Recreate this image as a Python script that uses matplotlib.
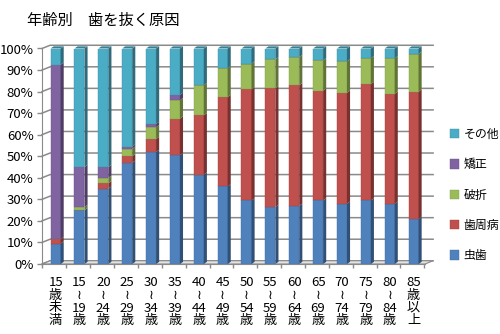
import numpy as np
import matplotlib
matplotlib.use('Agg')
import matplotlib.pyplot as plt
from matplotlib.patches import Polygon
from matplotlib.colors import to_rgb

plt.rcParams['font.family'] = ['Noto Sans CJK JP', 'DejaVu Sans']

ages = ['15\n歳\n未\n満', '15\n≀\n19\n歳', '20\n≀\n24\n歳', '25\n≀\n29\n歳',
        '30\n≀\n34\n歳', '35\n≀\n39\n歳', '40\n≀\n44\n歳', '45\n≀\n49\n歳',
        '50\n≀\n54\n歳', '55\n≀\n59\n歳', '60\n≀\n64\n歳', '65\n≀\n69\n歳',
        '70\n≀\n74\n歳', '75\n≀\n79\n歳', '80\n≀\n84\n歳', '85\n歳\n以\n上']

mushiba = [9.5, 25, 35, 47, 52, 50.5, 41.5, 36, 29.5, 26.5, 27, 29.5, 28, 29.5, 28, 21]
shishubyo = [2, 0, 2.5, 3, 6, 17, 27.5, 41.5, 51.5, 55, 56, 51, 51.5, 54, 51, 59]
hasetsu = [0, 1.5, 2.5, 3.5, 5.5, 8.5, 14, 13.5, 12, 13.5, 13, 14, 14.5, 12, 16.5, 17.5]
kyosei = [81, 18.5, 5, 1, 1.5, 2.5, 0, 0, 0, 0, 0, 0, 0, 0, 0, 0]
sonota = [7.5, 55, 55, 45.5, 35, 21.5, 17, 9, 7, 5, 4, 5.5, 6, 4.5, 4.5, 2.5]

series_names = ['虫歯', '歯周病', '破折', '矯正', 'その他']
series_vals = [mushiba, shishubyo, hasetsu, kyosei, sonota]
colors = ['#4f81bd', '#c0504d', '#9bbb59', '#8064a2', '#4bacc6']

def shade(c, f):
    r, g, b = to_rgb(c)
    return (r * f, g * f, b * f)

fig = plt.figure(figsize=(5, 3.34), dpi=100)
ax = fig.add_axes([42 / 500, 70 / 334, 383 / 500, 215.5 / 334])

x = np.arange(len(ages))
w = 0.42
dx, dy = 0.13, 1.0      # bar depth
wx, wy = 0.34, 1.5      # back wall offset
xl, xr = -0.57, 15.48
ax.set_xlim(xl, xr)
ax.set_ylim(0, 100)

# back wall gridlines + floor
for v in range(0, 101, 10):
    ax.plot([xl, xl + wx, xr + wx], [v, v + wy, v + wy], color='#8a8a8a',
            lw=1.1, zorder=0, clip_on=False)
ax.add_patch(Polygon([(xl, 0), (xl + wx, wy), (xr + wx, wy), (xr, 0)],
                     closed=True, fc='#e4e4e4', ec='#8a8a8a', lw=0.8,
                     zorder=0.5, clip_on=False))

bottom = np.zeros(len(ages))
handles = []
for name, vals, c in zip(series_names, series_vals, colors):
    vals = np.array(vals, dtype=float)
    h = ax.bar(x, vals, width=w, bottom=bottom, color=c, zorder=2,
               label=name, edgecolor=shade(c, 0.85), linewidth=0.3)
    handles.append(h)
    for xi, b, v in zip(x, bottom, vals):
        if v <= 0:
            continue
        ax.add_patch(Polygon([(xi + w / 2, b), (xi + w / 2 + dx, b + dy),
                              (xi + w / 2 + dx, b + v + dy), (xi + w / 2, b + v)],
                             closed=True, fc=shade(c, 0.62), lw=0,
                             zorder=2, clip_on=False))
    bottom = bottom + vals

# top caps
for xi, top in zip(x, bottom):
    ax.add_patch(Polygon([(xi - w / 2, top), (xi - w / 2 + dx, top + dy),
                          (xi + w / 2 + dx, top + dy), (xi + w / 2, top)],
                         closed=True, fc=shade(colors[-1], 0.75), lw=0,
                         zorder=2, clip_on=False))

for s in ['top', 'right']:
    ax.spines[s].set_visible(False)
ax.spines['left'].set_color('#8a8a8a')
ax.spines['bottom'].set_color('#8a8a8a')

ax.set_yticks(range(0, 101, 10))
ax.set_yticklabels([f'{v}%' for v in range(0, 101, 10)])
ax.tick_params(axis='y', length=3.6, width=1, color='#8a8a8a', pad=2.5,
               labelsize=9.5)

ax.set_xticks(np.arange(len(ages) + 1) - 0.55)
ax.set_xticklabels([])
ax.tick_params(axis='x', which='major', length=3, width=1, color='#8a8a8a')
ax.set_xticks(x, minor=True)
ax.set_xticklabels(ages, minor=True, linespacing=0.95, fontsize=9.5)
ax.tick_params(axis='x', which='minor', length=0, pad=9)

fig.text(27 / 500, 1 - 20 / 334, '年齢別　歯を抜く原因', fontsize=11,
         va='center', ha='left')

fig.legend(handles[::-1], series_names[::-1], loc='center left',
           bbox_to_anchor=(445 / 500, 1 - 195 / 334), frameon=False,
           fontsize=8.6, handlelength=0.8, handleheight=0.8,
           handletextpad=0.35, labelspacing=1.45, borderaxespad=0)

fig.savefig('out.png', dpi=100)
